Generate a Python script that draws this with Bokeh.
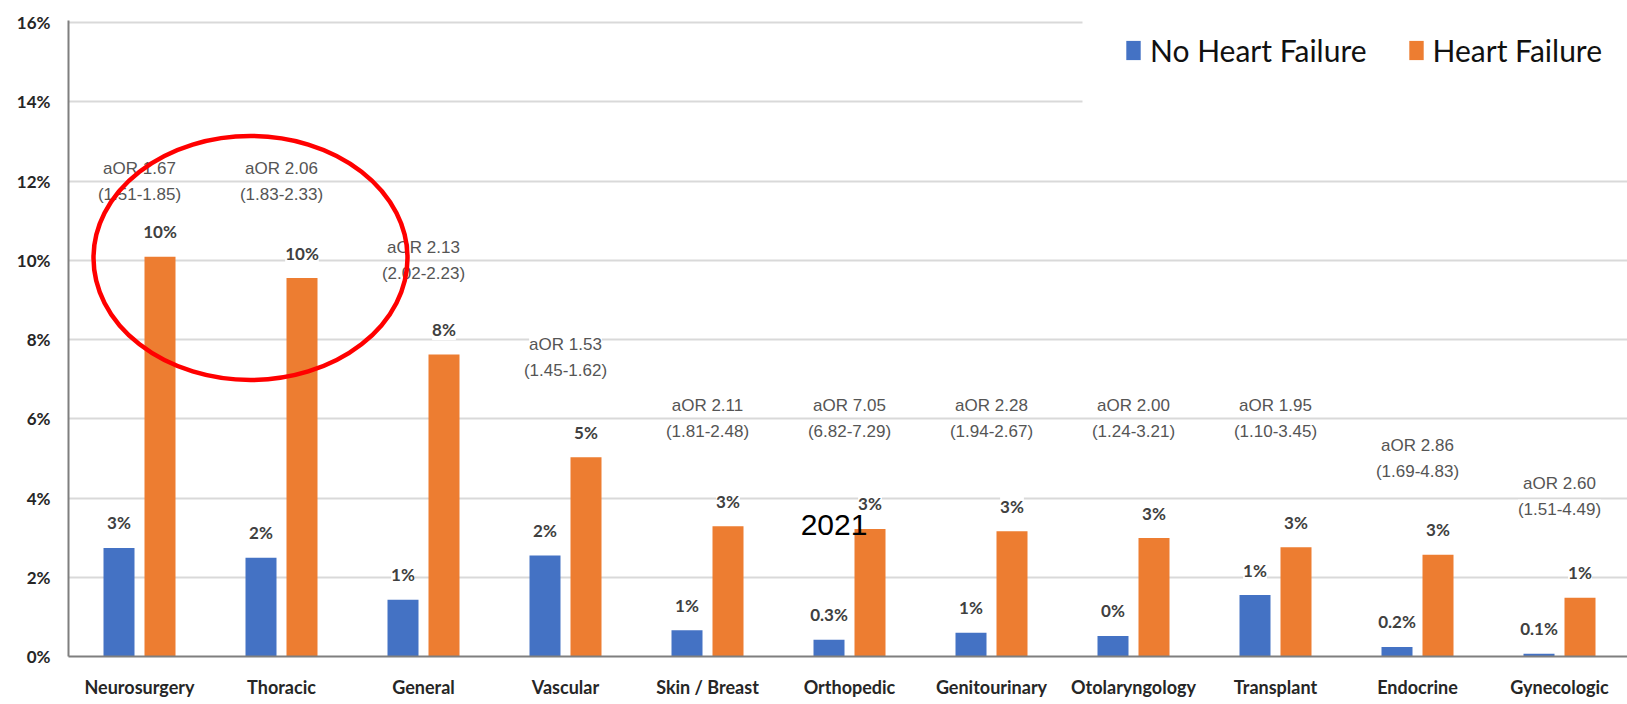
from bokeh.plotting import figure
from bokeh.models import (ColumnDataSource, LabelSet, Label, Legend, LegendItem,
                          Range1d, FixedTicker, BoxAnnotation)
from bokeh.core.properties import value
from bokeh.embed import file_html
from bokeh.resources import INLINE

# ---------------- data ----------------
categories = ["Neurosurgery", "Thoracic", "General", "Vascular", "Skin / Breast",
              "Orthopedic", "Genitourinary", "Otolaryngology", "Transplant",
              "Endocrine", "Gynecologic"]
no_hf = [2.74, 2.49, 1.43, 2.55, 0.66, 0.42, 0.60, 0.52, 1.55, 0.24, 0.07]
hf = [10.09, 9.55, 7.62, 5.03, 3.29, 3.22, 3.16, 2.99, 2.76, 2.57, 1.48]
no_hf_labels = ["3%", "2%", "1%", "2%", "1%", "0.3%", "1%", "0%", "1%", "0.2%", "0.1%"]
hf_labels = ["10%", "10%", "8%", "5%", "3%", "3%", "3%", "3%", "3%", "3%", "1%"]
aor = ["aOR 1.67", "aOR 2.06", "aOR 2.13", "aOR 1.53", "aOR 2.11", "aOR 7.05",
       "aOR 2.28", "aOR 2.00", "aOR 1.95", "aOR 2.86", "aOR 2.60"]
aor_ci = ["(1.51-1.85)", "(1.83-2.33)", "(2.02-2.23)", "(1.45-1.62)", "(1.81-2.48)",
          "(6.82-7.29)", "(1.94-2.67)", "(1.24-3.21)", "(1.10-3.45)", "(1.69-4.83)",
          "(1.51-4.49)"]
aor_level = [12.0, 12.0, 10.0, 7.55, 6.0, 6.0, 6.0, 6.0, 6.0, 5.0, 4.05]
y_ticks = [0, 2, 4, 6, 8, 10, 12, 14, 16]
y_tick_labels = ["0%", "2%", "4%", "6%", "8%", "10%", "12%", "14%", "16%"]
series_names = ["No Heart Failure", "Heart Failure"]
annotation_year = "2021"

# ---------------- layout ----------------
W, H = 1627, 704
px_y = 634 / 16.0          # pixels per percent
Y_MAX = 16 + 2 / px_y      # small headroom so the 16% gridline is drawn
LEFT, RIGHT, TOP, BOTTOM = 68, 0, 20, 48
frame_w = W - LEFT - RIGHT
frame_h = H - TOP - BOTTOM
CAT_PX = 142.0
ZERO_Y = TOP + frame_h     # screen y of 0%

BLUE = "#4472C4"
ORANGE = "#ED7D31"

xs = list(range(len(categories)))
dx = 20.5 / CAT_PX
bw = 31.0 / CAT_PX
lab_off = 25.0 / px_y
line_off = 13.0 / px_y

src = ColumnDataSource(dict(
    x_blue=[i - dx for i in xs],
    x_orange=[i + dx for i in xs],
    x=xs,
    no_hf=no_hf,
    hf=hf,
    no_hf_lab=no_hf_labels,
    hf_lab=hf_labels,
    no_hf_ly=[v + lab_off for v in no_hf],
    hf_ly=[v + lab_off for v in hf],
    aor=aor,
    aor_ci=aor_ci,
    aor_y1=[v + line_off for v in aor_level],
    aor_y2=[v - line_off for v in aor_level],
))

p = figure(width=W, height=H, output_backend="svg", toolbar_location=None,
           x_range=Range1d(-0.5, -0.5 + frame_w / CAT_PX),
           y_range=Range1d(0, Y_MAX))
p.min_border_left = LEFT
p.min_border_right = RIGHT
p.min_border_top = TOP
p.min_border_bottom = BOTTOM
p.outline_line_color = None
p.background_fill_color = "white"
p.border_fill_color = "white"

# grid
p.xgrid.grid_line_color = None
p.ygrid.grid_line_color = "#D9D9D9"
p.ygrid.grid_line_width = 2
p.ygrid.ticker = FixedTicker(ticks=y_ticks)

# axes
p.yaxis.ticker = FixedTicker(ticks=y_ticks)
p.yaxis.major_label_overrides = {t: l for t, l in zip(y_ticks, y_tick_labels)}
p.yaxis.axis_line_color = "#7F7F7F"
p.yaxis.axis_line_width = 2
p.yaxis.major_tick_line_color = None
p.yaxis.minor_tick_line_color = None
p.yaxis.major_tick_in = 0
p.yaxis.major_tick_out = 0
p.yaxis.major_label_standoff = 18
p.yaxis.major_label_text_font = "Lato"
p.yaxis.major_label_text_font_style = "bold"
p.yaxis.major_label_text_font_size = "17px"
p.yaxis.major_label_text_color = "#262626"

p.xaxis.ticker = FixedTicker(ticks=xs)
p.xaxis.major_label_overrides = {i: c for i, c in zip(xs, categories)}
p.xaxis.axis_line_color = "#7F7F7F"
p.xaxis.axis_line_width = 2
p.xaxis.major_tick_line_color = None
p.xaxis.minor_tick_line_color = None
p.xaxis.major_tick_in = 0
p.xaxis.major_tick_out = 0
p.xaxis.major_label_standoff = 19
p.xaxis.major_label_text_font = "Lato"
p.xaxis.major_label_text_font_style = "bold"
p.xaxis.major_label_text_font_size = "18px"
p.xaxis.major_label_text_color = "#262626"

# bars
r_blue = p.vbar(x="x_blue", top="no_hf", width=bw, source=src,
                fill_color=BLUE, line_color=None)
r_orange = p.vbar(x="x_orange", top="hf", width=bw, source=src,
                  fill_color=ORANGE, line_color=None)

# value labels
common_val = dict(source=src, text_align="center", text_baseline="middle",
                  text_font=value("Lato"), text_font_style="bold",
                  text_font_size=value("17px"),
                  text_color="#404040", background_fill_color="white",
                  background_fill_alpha=1.0)
p.add_layout(LabelSet(x="x_blue", y="no_hf_ly", text="no_hf_lab", **common_val))
p.add_layout(LabelSet(x="x_orange", y="hf_ly", text="hf_lab", **common_val))

# aOR labels
common_aor = dict(source=src, text_align="center", text_baseline="middle",
                  text_font=value("Liberation Sans"), text_font_size=value("17px"),
                  text_color="#555555", background_fill_color="white",
                  background_fill_alpha=1.0)
p.add_layout(LabelSet(x="x", y="aor_y2", text="aor_ci", **common_aor))
p.add_layout(LabelSet(x="x", y="aor_y1", text="aor", **common_aor))

# white panel behind legend (hides the top gridlines there)
p.add_layout(BoxAnnotation(left=(1082 - LEFT) / CAT_PX - 0.5, right=20,
                           bottom=(ZERO_Y - 115) / px_y, top=20,
                           fill_color="white", fill_alpha=1.0, line_color=None))

# legend
legend = Legend(items=[LegendItem(label=series_names[0], renderers=[r_blue]),
                       LegendItem(label=series_names[1], renderers=[r_orange])],
                orientation="horizontal",
                location=(1124 - LEFT, ZERO_Y - 68),
                glyph_width=18, glyph_height=24, label_height=24,
                label_standoff=8, spacing=40, padding=0, margin=0,
                label_text_font="Lato", label_text_font_size="30px",
                label_text_font_style="normal",
                label_text_color="#111111",
                background_fill_alpha=0.0, border_line_color=None)
p.add_layout(legend)

# red highlight ellipse
ell = p.ellipse(x=(250 - LEFT) / CAT_PX - 0.5, y=(ZERO_Y - 257.5) / px_y,
                width=314 / CAT_PX, height=244 / px_y,
                fill_alpha=0, line_color="#FF0000", line_width=4.5)
ell.level = "overlay"

# year stamp
p.add_layout(Label(x=(833.5 - LEFT) / CAT_PX - 0.5, y=(ZERO_Y - 524.7) / px_y,
                   text=annotation_year, text_align="center", text_baseline="middle",
                   text_font="Liberation Sans", text_font_size="30px",
                   text_color="#000000", level="overlay"))

open("out.html", "w").write(file_html(p, INLINE))
